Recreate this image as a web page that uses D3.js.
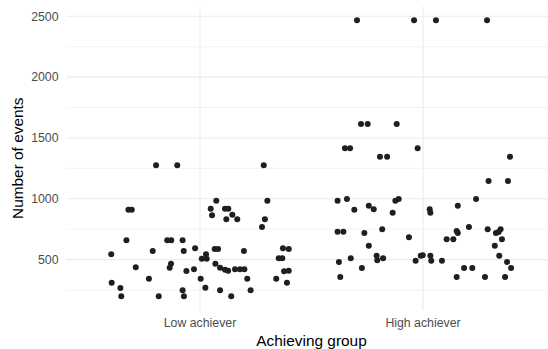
<!DOCTYPE html>
<html>
<head>
<meta charset="utf-8">
<script src="https://cdn.jsdelivr.net/npm/d3@7"></script>
<style>
  html, body { margin: 0; padding: 0; background: #fff; }
  svg { display: block; font-family: "Liberation Sans", Arial, Helvetica, sans-serif; }
</style>
</head>
<body>
<svg id="chart" width="548" height="349"></svg>
<script>
// Achieving groups on the x axis
const groups = ["Low achiever", "High achiever"];

// Number of events per student, low achievers
const lowValues = [
  1275, 1275, 1275, 984, 984, 910, 910, 919, 919, 919, 864, 869, 832, 832, 832, 768,
  659, 659, 659, 659, 571, 571, 571, 593, 593, 587, 587, 587, 544, 544,
  508, 508, 511, 511, 467, 467, 434, 434, 437, 418, 409, 421, 421, 421, 421, 407, 404, 409,
  343, 343, 343, 343, 311, 311, 267, 270, 248, 248, 248, 199, 199, 199, 199
];
// Horizontal jitter (in category units) of each low-achiever point
const lowJitter = [
  -0.197, -0.102, 0.286, 0.073, 0.302, -0.321, -0.306, 0.048, 0.112, 0.127, 0.054, 0.145, 0.118, 0.167, 0.291, 0.278,
  -0.330, -0.147, -0.129, -0.078, -0.212, -0.073, 0.197, -0.022, 0.372, 0.066, 0.081, 0.398, -0.398, 0.027,
  0.008, 0.030, 0.353, 0.369, -0.130, 0.069, -0.136, 0.090, -0.288, 0.112, 0.126, 0.157, 0.179, 0.199, -0.027, -0.061, 0.377, 0.398,
  0.212, -0.229, 0.003, 0.342, -0.396, 0.390, -0.357, 0.024, -0.078, 0.090, 0.227, -0.353, -0.185, -0.072, 0.140
];

// Number of events per student, high achievers
const highValues = [
  2467, 2467, 2467, 2467, 1615, 1615, 1615, 1415, 1415, 1415, 1346, 1346, 1346, 1146, 1146,
  998, 998, 998, 984, 984, 910, 943, 943, 914, 914, 886, 886,
  730, 730, 719, 719, 719, 749, 749, 749, 684, 735, 768, 727, 667, 667, 667, 615, 615,
  481, 481, 511, 511, 532, 532, 532, 532, 495, 491, 491, 491, 536,
  431, 431, 431, 431, 357, 357, 357, 357
];
// Horizontal jitter (in category units) of each high-achiever point
const highJitter = [
  -0.296, -0.040, 0.058, 0.287, -0.278, -0.248, -0.118, -0.350, -0.327, -0.024, -0.193, -0.161, 0.390, 0.294, 0.381,
  0.238, -0.341, -0.109, -0.383, -0.124, -0.308, -0.243, 0.156, -0.221, 0.030, -0.136, 0.033,
  -0.383, -0.357, -0.263, 0.156, 0.327, -0.183, 0.290, 0.348, -0.063, 0.151, 0.206, 0.339, 0.106, 0.136, 0.354, -0.243, 0.322,
  -0.377, 0.377, -0.324, -0.179, -0.208, -0.010, 0.033, 0.342, -0.205, -0.033, 0.037, 0.085, -0.001,
  -0.274, 0.184, 0.221, 0.395, -0.371, 0.151, 0.278, 0.368
];

// Axis ticks
const yMajorTicks = [500, 1000, 1500, 2000, 2500];
const yMinorTicks = [250, 750, 1250, 1750, 2250];

const points = [
  ...lowValues.map((v, i) => ({ pos: 1 + lowJitter[i], value: v })),
  ...highValues.map((v, i) => ({ pos: 2 + highJitter[i], value: v }))
];

const svg = d3.select("#chart");

// Panel geometry
const panel = { left: 66.2, right: 556.8, top: 6.5, bottom: 310 };

// Discrete groups are placed at 1 and 2, expanded by 0.6 on either side
const x = d3.scaleLinear().domain([0.4, 2.6]).range([panel.left, panel.right]);
const y = d3.scaleLinear().domain([0, 2500]).range([320.5, 16.25]);

const grid = svg.append("g");
grid.selectAll("line.minor")
  .data(yMinorTicks)
  .join("line")
  .attr("x1", panel.left).attr("x2", panel.right)
  .attr("y1", d => y(d)).attr("y2", d => y(d))
  .attr("stroke", "#ebebeb").attr("stroke-width", 0.6);

grid.selectAll("line.major")
  .data(yMajorTicks)
  .join("line")
  .attr("x1", panel.left).attr("x2", panel.right)
  .attr("y1", d => y(d)).attr("y2", d => y(d))
  .attr("stroke", "#ebebeb").attr("stroke-width", 1.1);

grid.selectAll("line.vmajor")
  .data(groups)
  .join("line")
  .attr("x1", (d, i) => x(i + 1)).attr("x2", (d, i) => x(i + 1))
  .attr("y1", panel.top).attr("y2", panel.bottom)
  .attr("stroke", "#ebebeb").attr("stroke-width", 1.1);

// Points
svg.append("g")
  .selectAll("circle")
  .data(points)
  .join("circle")
  .attr("cx", d => x(d.pos))
  .attr("cy", d => y(d.value))
  .attr("r", 3)
  .attr("fill", "#1f1f1f");

// Y axis tick labels
svg.append("g")
  .selectAll("text")
  .data(yMajorTicks)
  .join("text")
  .attr("x", 58.5)
  .attr("y", d => y(d))
  .attr("dy", "0.35em")
  .attr("text-anchor", "end")
  .attr("font-size", 12.3)
  .attr("fill", "#4d4d4d")
  .text(d => d);

// X axis tick labels
svg.append("g")
  .selectAll("text")
  .data(groups)
  .join("text")
  .attr("x", (d, i) => x(i + 1))
  .attr("y", 327)
  .attr("text-anchor", "middle")
  .attr("font-size", 12.3)
  .attr("fill", "#4d4d4d")
  .text(d => d);

// Axis titles
svg.append("text")
  .attr("x", (panel.left + panel.right) / 2)
  .attr("y", 345.5)
  .attr("text-anchor", "middle")
  .attr("font-size", 15.4)
  .attr("fill", "#000")
  .text("Achieving group");

svg.append("text")
  .attr("transform", `translate(23,${(panel.top + panel.bottom) / 2}) rotate(-90)`)
  .attr("text-anchor", "middle")
  .attr("font-size", 15.4)
  .attr("fill", "#000")
  .text("Number of events");
</script>
</body>
</html>
